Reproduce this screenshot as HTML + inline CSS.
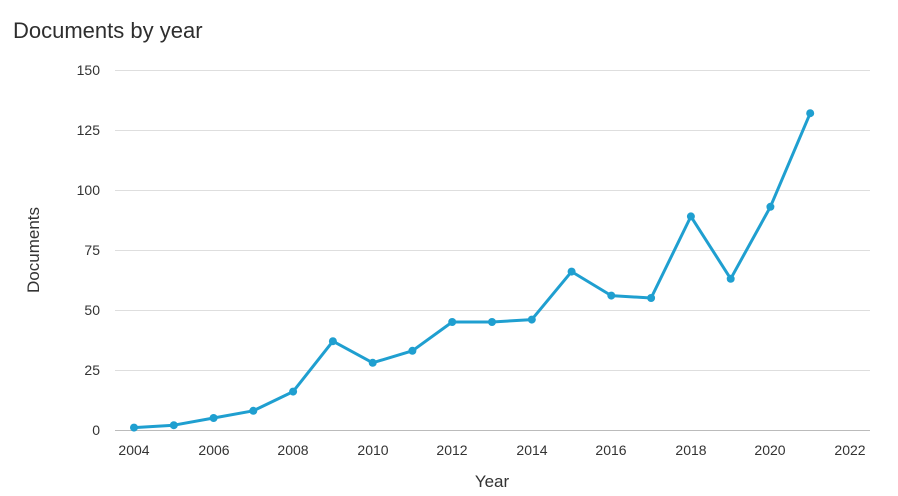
<!DOCTYPE html>
<html><head><meta charset="utf-8"><style>
body{margin:0;background:#fff;}
svg{display:block;font-family:"Liberation Sans",sans-serif;}
</style></head><body>
<svg width="898" height="496" viewBox="0 0 898 496">
<text x="13" y="38" font-size="22" fill="#2e2e2e">Documents by year</text>
<g stroke="#dedede" stroke-width="1">
<line x1="115" x2="870" y1="70.5" y2="70.5"/>
<line x1="115" x2="870" y1="130.5" y2="130.5"/>
<line x1="115" x2="870" y1="190.5" y2="190.5"/>
<line x1="115" x2="870" y1="250.5" y2="250.5"/>
<line x1="115" x2="870" y1="310.5" y2="310.5"/>
<line x1="115" x2="870" y1="370.5" y2="370.5"/>
</g>
<line x1="115" x2="870" y1="430.5" y2="430.5" stroke="#bbb"/>
<g font-size="14" fill="#333" text-anchor="end">
<text x="100" y="75">150</text><text x="100" y="135">125</text><text x="100" y="195">100</text>
<text x="100" y="255">75</text><text x="100" y="315">50</text><text x="100" y="375">25</text><text x="100" y="435">0</text>
</g>
<g font-size="14" fill="#333" text-anchor="middle">
<text x="134" y="455">2004</text><text x="214" y="455">2006</text><text x="293" y="455">2008</text>
<text x="373" y="455">2010</text><text x="452" y="455">2012</text><text x="532" y="455">2014</text>
<text x="611" y="455">2016</text><text x="691" y="455">2018</text><text x="770" y="455">2020</text><text x="850" y="455">2022</text>
</g>
<text x="492" y="487" font-size="17" fill="#333" text-anchor="middle">Year</text>
<text transform="translate(39,250) rotate(-90)" font-size="17" fill="#333" text-anchor="middle">Documents</text>
<polyline fill="none" stroke="#1f9fd0" stroke-width="3" stroke-linejoin="round" points="134,427.6 173.8,425.2 213.6,418 253.3,410.8 293.1,391.6 332.9,341.2 372.7,362.8 412.4,350.8 452.2,322 492,322 531.8,319.6 571.6,271.6 611.3,295.6 651.1,298 690.9,216.4 730.7,278.8 770.4,206.8 810.2,113.2"/>
<g fill="#1f9fd0">
<circle cx="134" cy="427.6" r="4"/><circle cx="173.8" cy="425.2" r="4"/><circle cx="213.6" cy="418" r="4"/>
<circle cx="253.3" cy="410.8" r="4"/><circle cx="293.1" cy="391.6" r="4"/><circle cx="332.9" cy="341.2" r="4"/>
<circle cx="372.7" cy="362.8" r="4"/><circle cx="412.4" cy="350.8" r="4"/><circle cx="452.2" cy="322" r="4"/>
<circle cx="492" cy="322" r="4"/><circle cx="531.8" cy="319.6" r="4"/><circle cx="571.6" cy="271.6" r="4"/>
<circle cx="611.3" cy="295.6" r="4"/><circle cx="651.1" cy="298" r="4"/><circle cx="690.9" cy="216.4" r="4"/>
<circle cx="730.7" cy="278.8" r="4"/><circle cx="770.4" cy="206.8" r="4"/><circle cx="810.2" cy="113.2" r="4"/>
</g>
</svg>
</body></html>
